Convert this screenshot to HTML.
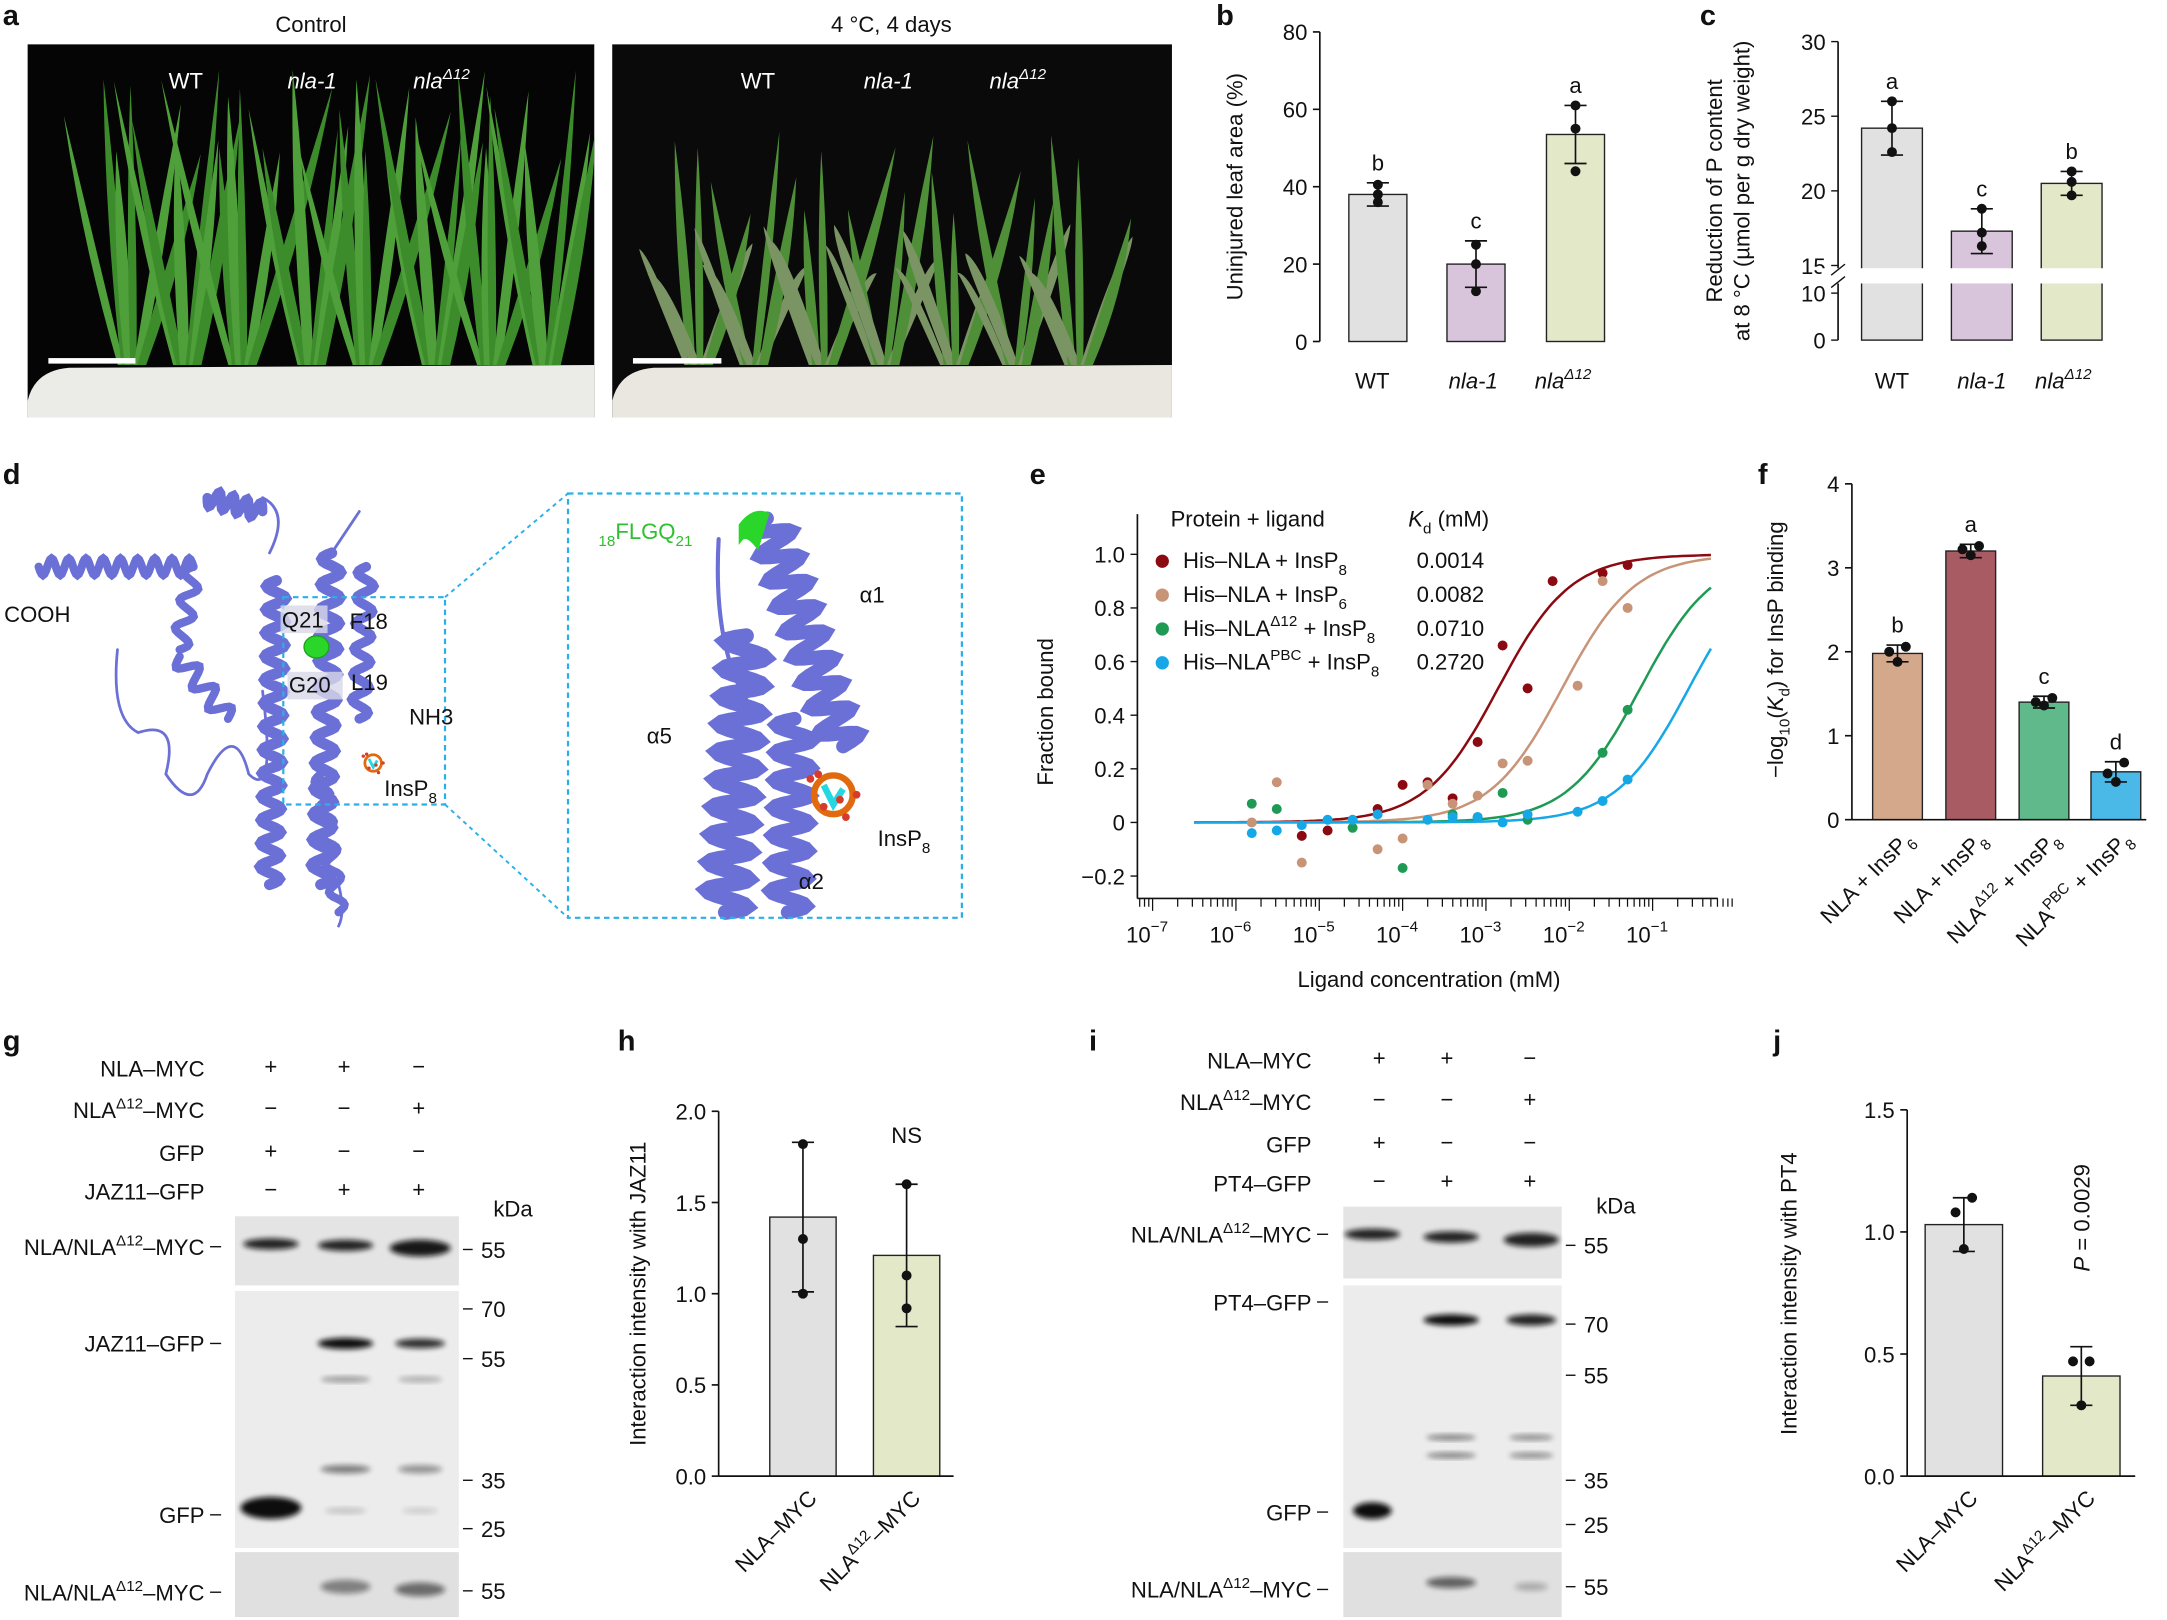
<!DOCTYPE html>
<html><head><meta charset="utf-8"><style>
html,body{margin:0;padding:0;background:#fff}
svg{display:block}
text{font-family:"Liberation Sans",Arial,sans-serif;fill:#111}
.t{font-size:16px}
.pl{font-size:21px;font-weight:bold}
</style></head><body>
<svg id="fig" width="2167" height="1620" viewBox="0 0 1568 1172" xmlns="http://www.w3.org/2000/svg">
<defs>
<filter id="bl" x="-20%" y="-50%" width="140%" height="200%"><feGaussianBlur stdDeviation="2"/></filter>
<clipPath id="clipL"><rect x="20" y="32" width="410" height="270"/></clipPath>
<clipPath id="clipR"><rect x="443" y="32" width="405" height="270"/></clipPath>
</defs>
<g id="g-a">
<text class="pl" x="2" y="18">a</text>
<text class="t" x="225" y="23" text-anchor="middle">Control</text>
<text class="t" x="645" y="23" text-anchor="middle">4 °C, 4 days</text>
<rect x="20" y="32" width="410" height="270" fill="#050505"/>
<rect x="443" y="32" width="405" height="270" fill="#0a0a0a"/>
<g id="leavesL" clip-path="url(#clipL)"></g><g id="leavesR" clip-path="url(#clipR)"></g>
<path d="M20 302 L20 290 Q25 268 50 266 L430 264 L430 302Z" fill="#ebebe8"/>
<path d="M443 302 L443 290 Q448 268 473 266 L848 264 L848 302Z" fill="#e9e7e0"/>
<rect x="35" y="259" width="63" height="4" fill="#fff"/>
<rect x="458" y="259" width="64" height="4" fill="#fff"/>
<g font-size="16">
<text x="122" y="64" style="fill:#fff">WT</text>
<text x="208" y="64" font-style="italic" style="fill:#fff">nla-1</text>
<text x="299" y="64" font-style="italic" style="fill:#fff">nla<tspan font-size="11" dy="-7" style="fill:#fff">Δ12</tspan></text>
<text x="536" y="64" style="fill:#fff">WT</text>
<text x="625" y="64" font-style="italic" style="fill:#fff">nla-1</text>
<text x="716" y="64" font-style="italic" style="fill:#fff">nla<tspan font-size="11" dy="-7" style="fill:#fff">Δ12</tspan></text>
</g>
</g>
<g id="g-b"><text class="pl" x="880" y="18">b</text></g>
<g id="g-c"><text class="pl" x="1230" y="18">c</text></g>
<g id="g-d">
<text class="pl" x="2" y="350">d</text>
<g id="prot" fill="none" stroke="#6b70d6" stroke-linecap="round"></g>
<rect x="205" y="432" width="117" height="150" fill="none" stroke="#2ab0e8" stroke-width="1.6" stroke-dasharray="4 3"/>
<rect x="411" y="357" width="285" height="307" fill="none" stroke="#2ab0e8" stroke-width="1.6" stroke-dasharray="4 3"/>
<line x1="322" y1="432" x2="411" y2="357" stroke="#2ab0e8" stroke-width="1.4" stroke-dasharray="3 3"/>
<line x1="322" y1="582" x2="411" y2="664" stroke="#2ab0e8" stroke-width="1.4" stroke-dasharray="3 3"/>
<g id="lig"></g>
<g class="t" font-size="16">
<text x="3" y="450">COOH</text>
<rect x="203" y="438" width="34" height="20" fill="#d8d8e8" opacity=".8"/><text x="204" y="454">Q21</text>
<text x="253" y="455">F18</text>
<rect x="208" y="486" width="40" height="20" fill="#d8d8e8" opacity=".8"/><text x="209" y="501">G20</text>
<text x="254" y="499">L19</text>
<text x="296" y="524">NH3</text>
<text x="278" y="576">InsP<tspan font-size="11" dy="5">8</tspan></text>
<text x="433" y="390" style="fill:#2fbf2f"><tspan font-size="11" dy="5" style="fill:#2fbf2f">18</tspan><tspan dy="-5" style="fill:#2fbf2f">FLGQ</tspan><tspan font-size="11" dy="5" style="fill:#2fbf2f">21</tspan></text>
<text x="622" y="436">α1</text>
<text x="468" y="538">α5</text>
<text x="578" y="643">α2</text>
<text x="635" y="612">InsP<tspan font-size="11" dy="5">8</tspan></text>
</g>
</g>
<g id="g-e"><text class="pl" x="745" y="350">e</text></g>
<g id="g-f"><text class="pl" x="1272" y="350">f</text></g>
<g id="g-g"><text class="pl" x="2" y="760">g</text></g>
<g id="g-h"><text class="pl" x="447" y="760">h</text></g>
<g id="g-i"><text class="pl" x="788" y="760">i</text></g>
<g id="g-j"><text class="pl" x="1283" y="760">j</text></g>
</svg>
<script>
// ---------- data ----------
const bCats=["WT","nla-1","nlaΔ12"];
const bVals=[38,20,53.5];
const bErr=[3,6,7.5];
const bPts=[[36,38,40.5],[13,20,25],[44,55,61]];
const bLetters=["b","c","a"];
const bTicks=[0,20,40,60,80];

const cVals=[24.2,17.3,20.5];
const cErr=[1.8,1.5,0.8];
const cPts=[[22.6,24.2,26],[16.3,17.2,18.8],[19.7,20.6,21.3]];
const cLetters=["a","c","b"];
const cTicksHi=[15,20,25,30];
const cTicksLo=[0,10];

const eKd=[0.0014,0.0082,0.0710,0.2720];
const eNames=["His–NLA + InsP8","His–NLA + InsP6","His–NLAΔ12 + InsP8","His–NLAPBC + InsP8"];
const eLogX=[-5.81,-5.51,-5.21,-4.9,-4.6,-4.3,-4.0,-3.7,-3.4,-3.1,-2.8,-2.5,-2.2,-1.9,-1.6,-1.3];
const eRed=[null,null,-0.05,-0.03,null,0.05,0.14,0.15,0.09,0.30,0.66,0.50,0.90,null,0.93,0.96];
const eTan=[0.0,0.15,-0.15,null,null,-0.10,-0.06,0.14,0.07,0.10,0.22,0.23,null,0.51,0.90,0.80];
const eGreen=[0.07,0.05,null,null,-0.02,null,-0.17,null,0.03,0.02,0.11,0.01,null,null,0.26,0.42];
const eBlue=[-0.04,-0.03,-0.01,0.01,0.01,0.03,null,0.01,0.02,0.02,0.0,0.03,null,0.04,0.08,0.16];
const eYTicks=[-0.2,0,0.2,0.4,0.6,0.8,1.0];
const eXTicks=[-7,-6,-5,-4,-3,-2,-1];

const fVals=[1.98,3.2,1.4,0.57];
const fErr=[0.1,0.08,0.07,0.12];
const fPts=[[1.88,2.0,2.06],[3.15,3.22,3.26],[1.36,1.4,1.45],[0.45,0.55,0.68]];
const fLetters=["b","a","c","d"];
const fTicks=[0,1,2,3,4];

const hVals=[1.42,1.21];
const hErr=[0.41,0.39];
const hPts=[[1.0,1.3,1.82],[0.92,1.1,1.6]];
const hTicks=[0,0.5,1.0,1.5,2.0];

const jVals=[1.03,0.41];
const jErr=[0.11,0.12];
const jPts=[[0.93,1.08,1.14],[0.29,0.47,0.47]];
const jTicks=[0,0.5,1.0,1.5];

// ---------- helpers ----------
const NS="http://www.w3.org/2000/svg";
function mk(tag,attrs,parent){const e=document.createElementNS(NS,tag);for(const k in attrs)e.setAttribute(k,attrs[k]);parent.appendChild(e);return e;}
function txt(s,x,y,parent,extra){const e=mk('text',Object.assign({x:x,y:y,'font-size':16},extra||{}),parent);e.innerHTML=s;return e;}

function barChart(g,o){
  const Y=v=>o.y0-v*o.scale;
  mk('line',{x1:o.x0,y1:Y(o.ticks[0]),x2:o.x0,y2:Y(o.ticks[o.ticks.length-1]),stroke:'#111','stroke-width':1.2},g);
  o.ticks.forEach(t=>{mk('line',{x1:o.x0-5,y1:Y(t),x2:o.x0,y2:Y(t),stroke:'#111','stroke-width':1.2},g);
    txt(o.fmt(t),o.x0-9,Y(t)+6,g,{'text-anchor':'end'});});
  o.vals.forEach((v,i)=>{
    const cx=o.centers[i];
    const r=mk('rect',{x:cx-o.w/2,y:Y(v),width:o.w,height:o.y0-Y(v),fill:o.colors[i],stroke:'#222','stroke-width':1},g);
    
    
    const e=o.errs[i];
    mk('line',{x1:cx,y1:Y(v+e),x2:cx,y2:Y(v-e),stroke:'#111','stroke-width':1.2},g);
    mk('line',{x1:cx-8,y1:Y(v+e),x2:cx+8,y2:Y(v+e),stroke:'#111','stroke-width':1.2},g);
    mk('line',{x1:cx-8,y1:Y(v-e),x2:cx+8,y2:Y(v-e),stroke:'#111','stroke-width':1.2},g);
    o.pts[i].forEach((p,k)=>{const dx=[0,-6,6][k]*(o.jit||0);mk('circle',{cx:cx+dx,cy:Y(p),r:3.6,fill:'#111'},g);});
    if(o.letters){const l=txt(o.letters[i],cx,Y(v+e)-9,g,{'text-anchor':'middle'});}
  });
  return Y;
}

// ---------- panel b ----------
(function(){const g=document.getElementById('g-b');
 barChart(g,{x0:955,y0:247,scale:2.8,centers:[997,1068,1140],w:42,vals:bVals,errs:bErr,pts:bPts,colors:['#e1e1e1','#d8c5dc','#e3e8c9'],ticks:bTicks,fmt:t=>t,letters:bLetters,jit:0});
 const labs=['WT','<tspan font-style="italic">nla-1</tspan>','<tspan font-style="italic">nla</tspan><tspan font-size="11" dy="-7" font-style="italic">Δ12</tspan>'];
 [993,1066,1137].forEach((x,i)=>{const t=txt(labs[i],x-(i==2?6:0),281,g,{'text-anchor':'middle'});});
 const t=txt('Uninjured leaf area (%)',0,0,g,{transform:'translate(899 135) rotate(-90)','text-anchor':'middle'});
})();
// ---------- panel c ----------
(function(){const g=document.getElementById('g-c');
 const x0=1330;const Yh=v=>192-(v-15)*10.8;const Yl=v=>246-v*3.4;
 const Y=v=>v>=15?Yh(v):Yl(v);
 mk('line',{x1:x0,y1:246,x2:x0,y2:Yh(30),stroke:'#111','stroke-width':1.2},g);
 cTicksHi.forEach(t=>{mk('line',{x1:x0-5,y1:Yh(t),x2:x0,y2:Yh(t),stroke:'#111'},g);txt(t,x0-9,Yh(t)+6,g,{'text-anchor':'end'});});
 cTicksLo.forEach(t=>{mk('line',{x1:x0-5,y1:Yl(t),x2:x0,y2:Yl(t),stroke:'#111'},g);txt(t,x0-9,Yl(t)+6,g,{'text-anchor':'end'});});
 const cs=[1369,1434,1499],cols=['#e1e1e1','#d8c5dc','#e3e8c9'];
 cVals.forEach((v,i)=>{const cx=cs[i];
  const r=mk('rect',{x:cx-22,y:Y(v),width:44,height:246-Y(v),fill:cols[i],stroke:'#222'},g);
  
  const e=cErr[i];
  [[cx,Y(v+e),cx,Y(v-e)],[cx-8,Y(v+e),cx+8,Y(v+e)],[cx-8,Y(v-e),cx+8,Y(v-e)]].forEach(a=>mk('line',{x1:a[0],y1:a[1],x2:a[2],y2:a[3],stroke:'#111','stroke-width':1.2},g));
  cPts[i].forEach(p=>mk('circle',{cx:cx,cy:Y(p),r:3.6,fill:'#111'},g));
  txt(cLetters[i],cx,Y(v+e)-9,g,{'text-anchor':'middle'});
 });
 mk('rect',{x:1318,y:194,width:210,height:11,fill:'#fff'},g);
 mk('line',{x1:x0-5,y1:199,x2:x0+5,y2:191,stroke:'#111'},g);
 mk('line',{x1:x0-5,y1:208,x2:x0+5,y2:200,stroke:'#111'},g);
 const labs=['WT','<tspan font-style="italic">nla-1</tspan>','<tspan font-style="italic">nla</tspan><tspan font-size="11" dy="-7" font-style="italic">Δ12</tspan>'];
 cs.forEach((x,i)=>txt(labs[i],x-(i==2?6:0),281,g,{'text-anchor':'middle'}));
 txt('Reduction of P content',0,0,g,{transform:'translate(1246 138) rotate(-90)','text-anchor':'middle'});
 txt('at 8 °C (µmol per g dry weight)',0,0,g,{transform:'translate(1266 138) rotate(-90)','text-anchor':'middle'});
})();
// ---------- panel e ----------
(function(){const g=document.getElementById('g-e');
 const X=l=>834+(l+7)*60.3; const Y=v=>595-v*194;
 const xa=823, ya=650;
 mk('line',{x1:xa,y1:Y(1.15),x2:xa,y2:ya,stroke:'#111','stroke-width':1.2},g);
 mk('line',{x1:xa,y1:ya,x2:1243,y2:ya,stroke:'#111','stroke-width':1.2},g);
 eYTicks.forEach(t=>{mk('line',{x1:xa-5,y1:Y(t),x2:xa,y2:Y(t),stroke:'#111'},g);txt(t===0?'0':(t<0?'−0.2':t.toFixed(1)),xa-9,Y(t)+6,g,{'text-anchor':'end'});});
 for(let d=-7;d<=-1;d++){for(let k=1;k<10;k++){const lx=d+Math.log10(k);const xx=X(lx);mk('line',{x1:xx,y1:ya,x2:xx,y2:ya+(k===1?9:6),stroke:'#111','stroke-width':0.9},g);}}
 [5,6,7,8,9].forEach(k=>{const xx=X(-8+Math.log10(k));if(xx>xa)mk('line',{x1:xx,y1:ya,x2:xx,y2:ya+6,stroke:'#111','stroke-width':.9},g);});
 for(let k=1;k<=5;k++){const xx=X(0+Math.log10(k)-0);if(xx<1243)mk('line',{x1:xx,y1:ya,x2:xx,y2:ya+6,stroke:'#111','stroke-width':.9},g);}
 eXTicks.forEach(d=>{txt('10<tspan font-size="11" dy="-8">'+(d<0?'−':'')+Math.abs(d)+'</tspan>',X(d)-4,ya+32,g,{'text-anchor':'middle'});});
 txt('Ligand concentration (mM)',1034,714,g,{'text-anchor':'middle'});
 txt('Fraction bound',0,0,g,{transform:'translate(762 515) rotate(-90)','text-anchor':'middle'});
 const cols=['#8b0a12','#c89478','#1f9a55','#16a8e6'];
 const series=[eRed,eTan,eGreen,eBlue];
 eKd.forEach((kd,i)=>{let d='';for(let l=-6.5;l<=-0.3;l+=0.05){const c=Math.pow(10,l);const v=c/(c+kd);d+=(d?'L':'M')+X(l).toFixed(1)+' '+Y(v).toFixed(1);}
  const p=mk('path',{d:d,fill:'none',stroke:cols[i],'stroke-width':1.8},g);});
 series.forEach((s,i)=>{s.forEach((v,k)=>{if(v===null)return;const c=mk('circle',{cx:X(eLogX[k]),cy:Y(v),r:3.6,fill:cols[i]},g);});});
 txt('Protein + ligand',847,381,g);
 txt('<tspan font-style="italic">K</tspan><tspan font-size="11" dy="5">d</tspan><tspan dy="-5"> (mM)</tspan>',1019,381,g);
 const ln=['His–NLA + InsP<tspan font-size="11" dy="5">8</tspan>','His–NLA + InsP<tspan font-size="11" dy="5">6</tspan>','His–NLA<tspan font-size="11" dy="-7">Δ12</tspan><tspan dy="7"> + InsP</tspan><tspan font-size="11" dy="5">8</tspan>','His–NLA<tspan font-size="11" dy="-7">PBC</tspan><tspan dy="7"> + InsP</tspan><tspan font-size="11" dy="5">8</tspan>'];
 eKd.forEach((kd,i)=>{const y=411+i*24.5;const le=mk('circle',{cx:841,cy:y-5,r:4.8,fill:cols[i]},g);
  txt(ln[i],856,y,g);txt(kd.toFixed(4),1025,y,g);});
})();
// ---------- panel f ----------
(function(){const g=document.getElementById('g-f');
 const cs=[1373,1426,1479,1531];
 barChart(g,{x0:1340,y0:593,scale:60.75,centers:cs,w:36,vals:fVals,errs:fErr,pts:fPts,colors:['#d4a98b','#a85b63','#5fb98a','#4ab9e8'],ticks:fTicks,fmt:t=>t,letters:fLetters,jit:1});
 mk('line',{x1:1340,y1:593,x2:1553,y2:593,stroke:'#111','stroke-width':1.2},g);
 const labs=['NLA + InsP<tspan font-size="11" dy="5">6</tspan>','NLA + InsP<tspan font-size="11" dy="5">8</tspan>','NLA<tspan font-size="11" dy="-7">Δ12</tspan><tspan dy="7"> + InsP</tspan><tspan font-size="11" dy="5">8</tspan>','NLA<tspan font-size="11" dy="-7">PBC</tspan><tspan dy="7"> + InsP</tspan><tspan font-size="11" dy="5">8</tspan>'];
 cs.forEach((x,i)=>txt(labs[i],0,0,g,{transform:'translate('+(x+12)+' 608) rotate(-45)','text-anchor':'end'}));
 txt('−log<tspan font-size="11" dy="5">10</tspan><tspan dy="-5">(</tspan><tspan font-style="italic">K</tspan><tspan font-size="11" dy="5">d</tspan><tspan dy="-5">) for InsP binding</tspan>',0,0,g,{transform:'translate(1290 470) rotate(-90)','text-anchor':'middle'});
})();
// ---------- panel h ----------
(function(){const g=document.getElementById('g-h');
 const cs=[581,656];
 barChart(g,{x0:520,y0:1068,scale:132,centers:cs,w:48,vals:hVals,errs:hErr,pts:hPts,colors:['#e1e1e1','#e3e8c9'],ticks:hTicks,fmt:t=>t.toFixed(1),jit:0});
 mk('line',{x1:520,y1:1068,x2:690,y2:1068,stroke:'#111','stroke-width':1.2},g);
 txt('NS',656,827,g,{'text-anchor':'middle'});
 txt('NLA–MYC',0,0,g,{transform:'translate(592 1085) rotate(-45)','text-anchor':'end'});
 txt('NLA<tspan font-size="11" dy="-7">Δ12</tspan><tspan dy="7">–MYC</tspan>',0,0,g,{transform:'translate(667 1085) rotate(-45)','text-anchor':'end'});
 txt('Interaction intensity with JAZ11',0,0,g,{transform:'translate(467 936) rotate(-90)','text-anchor':'middle'});
})();
// ---------- panel j ----------
(function(){const g=document.getElementById('g-j');
 const cs=[1421,1506];
 barChart(g,{x0:1380,y0:1068,scale:176.7,centers:cs,w:56,vals:jVals,errs:jErr,pts:jPts,colors:['#e1e1e1','#e3e8c9'],ticks:jTicks,fmt:t=>t.toFixed(1),jit:1});
 mk('line',{x1:1380,y1:1068,x2:1545,y2:1068,stroke:'#111','stroke-width':1.2},g);
 txt('<tspan font-style="italic">P</tspan> = 0.0029',0,0,g,{transform:'translate(1512 920) rotate(-90)'});
 txt('NLA–MYC',0,0,g,{transform:'translate(1432 1085) rotate(-45)','text-anchor':'end'});
 txt('NLA<tspan font-size="11" dy="-7">Δ12</tspan><tspan dy="7">–MYC</tspan>',0,0,g,{transform:'translate(1517 1085) rotate(-45)','text-anchor':'end'});
 txt('Interaction intensity with PT4',0,0,g,{transform:'translate(1300 936) rotate(-90)','text-anchor':'middle'});
})();
// ---------- blots ----------
function blot(g,o){
 o.rows.forEach(r=>{txt(r[0],o.lx,r[1],g,{'text-anchor':'end'});
   r[2].forEach((s,k)=>txt(s,o.lanes[k],r[1]-2,g,{'text-anchor':'middle'}));});
 o.blocks.forEach(b=>{mk('rect',{x:o.bx,y:b[0],width:o.bw,height:b[1]-b[0],fill:b[2]||'#e4e4e4'},g);});
 o.bands.forEach(b=>{mk('ellipse',{cx:b[0],cy:b[1],rx:b[2],ry:b[3],fill:'#111',opacity:b[4],filter:'url(#bl)'},g);});
 o.labels.forEach(l=>{txt(l[0],o.lblx,l[1]+6,g,{'text-anchor':'end'});mk('line',{x1:o.lblx+4,y1:l[1],x2:o.lblx+12,y2:l[1],stroke:'#111'},g);});
 o.kda.forEach(k=>{mk('line',{x1:o.bx+o.bw+3,y1:k[1],x2:o.bx+o.bw+10,y2:k[1],stroke:'#111'},g);txt(k[0],o.bx+o.bw+16,k[1]+6,g);});
 txt('kDa',o.bx+o.bw+25,o.kdaY,g);
}
blot(document.getElementById('g-g'),{lx:148,lanes:[196,249,303],
 rows:[['NLA–MYC',779,['+','+','−']],['NLA<tspan font-size="11" dy="-7">Δ12</tspan><tspan dy="7">–MYC</tspan>',809,['−','−','+']],['GFP',840,['+','−','−']],['JAZ11–GFP',868,['−','+','+']]],
 bx:170,bw:162,blocks:[[880,930],[934,1120,'#ececec'],[1123,1170,'#e0e0e0']],
 bands:[[196,900,20,4,.9],[250,901,20,4,.9],[304,903,22,6,.95],[250,972,20,4,1],[304,972,18,3.5,.85],[250,998,18,2,.4],[304,998,16,2,.3],[250,1063,18,3,.5],[304,1063,16,3,.4],[196,1091,22,8,1],[250,1093,15,2,.2],[304,1093,13,2,.15],[250,1148,18,5,.45],[304,1150,18,5,.55]],
 lblx:148,labels:[['NLA/NLA<tspan font-size="11" dy="-7">Δ12</tspan><tspan dy="7">–MYC</tspan>',902],['JAZ11–GFP',972],['GFP',1096],['NLA/NLA<tspan font-size="11" dy="-7">Δ12</tspan><tspan dy="7">–MYC</tspan>',1152]],
 kda:[['55',904],['70',947],['55',983],['35',1071],['25',1106],['55',1151]],kdaY:880});
blot(document.getElementById('g-i'),{lx:949,lanes:[998,1047,1107],
 rows:[['NLA–MYC',773,['+','+','−']],['NLA<tspan font-size="11" dy="-7">Δ12</tspan><tspan dy="7">–MYC</tspan>',803,['−','−','+']],['GFP',834,['+','−','−']],['PT4–GFP',862,['−','+','+']]],
 bx:972,bw:158,blocks:[[873,925],[930,1120,'#ececec'],[1123,1170,'#e0e0e0']],
 bands:[[993,893,20,4,.9],[1050,895,20,4,.9],[1108,897,20,5,.9],[1050,955,20,4,1],[1108,955,18,4,.9],[1050,1040,18,2,.5],[1108,1040,16,2,.45],[1050,1053,18,2,.5],[1108,1053,16,2,.45],[993,1093,14,6,1],[1050,1145,18,4,.6],[1108,1148,12,3,.25]],
 lblx:949,labels:[['NLA/NLA<tspan font-size="11" dy="-7">Δ12</tspan><tspan dy="7">–MYC</tspan>',893],['PT4–GFP',942],['GFP',1094],['NLA/NLA<tspan font-size="11" dy="-7">Δ12</tspan><tspan dy="7">–MYC</tspan>',1150]],
 kda:[['55',901],['70',958],['55',995],['35',1071],['25',1103],['55',1148]],kdaY:878});
// ---------- photos (decorative leaves) ----------
function leaves(gid,xs,cold){const g=document.getElementById(gid);
 xs.forEach((cx,p)=>{for(let k=0;k<6;k++){const a=(k-2.5)*0.09+Math.sin(p*3+k*1.7)*0.06;const L=(cold?140:185)+Math.sin(k*2.3+p)*30;
  const bx=cx+(k-2.5)*3, by=264;let tx=bx+Math.sin(a)*L, ty=by-Math.cos(a)*L;
  if(cold&&k%2===0){tx=bx+(k<3?-35:35); ty=by-L*0.6;}
  const mx=(bx+tx)/2+(cold&&k%2===0?(k<3?-12:12):a*15), my=(by+ty)/2-(cold&&k%2===0?35:0);
  const w=4.5+(k%3);
  const col=cold?(k%2?'#4f8f38':'#7a9463'):(k%2?'#3d8c2c':'#4fa03a');
  mk('path',{d:`M${bx-w/2} ${by} Q${mx-w} ${my} ${tx} ${ty} Q${mx+w} ${my} ${bx+w/2} ${by}Z`,fill:col},g);}});
}
leaves('leavesL',[95,135,175,225,265,315,355,395],false);
leaves('leavesR',[505,545,595,640,690,735,780],true);
// ---------- protein cartoon ----------
function helix(g,x1,y1,x2,y2,turns,amp,w){let d='';const n=turns*12;const dx=x2-x1,dy=y2-y1,L=Math.hypot(dx,dy),nx=-dy/L,ny=dx/L;
 for(let i=0;i<=n;i++){const t=i/n;const s=Math.sin(t*turns*2*Math.PI)*amp;d+=(i?'L':'M')+(x1+dx*t+nx*s).toFixed(1)+' '+(y1+dy*t+ny*s).toFixed(1);}
 mk('path',{d:d,'stroke-width':w},g);}
(function(){const g=document.getElementById('prot');
 helix(g,28,410,140,410,9,6,6);helix(g,140,410,130,470,3,6,6);
 helix(g,130,475,165,520,3,7,6);
 mk('path',{d:'M85 470 Q80 520 100 530 Q130 520 120 560 Q140 590 150 560 Q170 520 180 560 Q200 580 190 500','stroke-width':2},g);
 helix(g,150,360,190,370,4,6,7);
 helix(g,200,420,195,640,13,7,8);helix(g,240,400,232,640,13,7,8);helix(g,265,410,260,520,6,6,7);
 mk('path',{d:'M195 400 Q210 370 190 360 M240 400 L260 370 M245 640 Q250 660 245 670','stroke-width':2},g);
 helix(g,232,560,245,660,5,5,6);
 helix(g,555,375,610,540,9,14,10);helix(g,540,460,525,660,10,15,11);helix(g,575,520,570,660,7,13,10);
 mk('path',{d:'M520 390 Q515 480 550 520','stroke-width':3},g);
 mk('path',{d:'M536 380 Q545 368 555 372 L548 395 Q540 385 536 390Z',fill:'#2bd62b',stroke:'#2bd62b','stroke-width':3},g);
 mk('ellipse',{cx:229,cy:468,rx:9,ry:8,fill:'#2bd62b',stroke:'#1aa51a','stroke-width':1},g);
 const L=document.getElementById('lig');
 [[270,552,6],[603,575,14]].forEach(c=>{mk('circle',{cx:c[0],cy:c[1],r:c[2],fill:'none',stroke:'#e06a10','stroke-width':c[2]/3},L);
   mk('path',{d:`M${c[0]-c[2]/2} ${c[1]-c[2]/2} l${c[2]/2} ${c[2]} l${c[2]/2} -${c[2]*0.8}`,stroke:'#25d7e0','stroke-width':c[2]/3,fill:'none'},L);
   for(let k=0;k<6;k++){mk('circle',{cx:c[0]+Math.cos(k)*c[2]*1.2,cy:c[1]+Math.sin(k*1.3)*c[2]*1.2,r:c[2]/5,fill:'#d63b2b'},L);}});
})();
</script>
</body></html>
